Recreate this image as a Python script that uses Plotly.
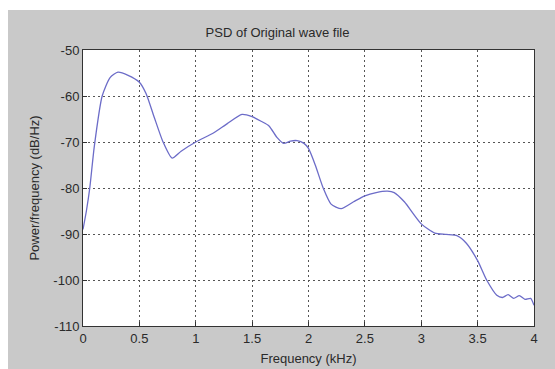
import plotly.graph_objects as go

freq_khz = [0, 0.03, 0.06, 0.1, 0.17, 0.24, 0.31, 0.4, 0.5, 0.56, 0.63, 0.71, 0.79, 0.87,
            1.0, 1.16, 1.28, 1.41, 1.5, 1.58, 1.65, 1.72, 1.78, 1.84, 1.9, 1.96, 2.0,
            2.06, 2.13, 2.2, 2.29, 2.4, 2.5, 2.6, 2.7, 2.76, 2.85, 3.0, 3.12, 3.22,
            3.32, 3.4, 3.5, 3.58, 3.67, 3.72, 3.77, 3.82, 3.87, 3.92, 3.97, 4.0]
psd_db = [-89, -85, -80, -71, -60, -56, -54.8, -55.5, -57, -59.5, -64.5, -70, -73.5, -72,
          -70, -68, -66, -64, -64.5, -65.5, -66.5, -69, -70.3, -69.8, -69.7, -70.3, -71.4,
          -75, -80, -83.5, -84.5, -83, -81.7, -81, -80.7, -81, -83, -87.8, -89.8, -90.1,
          -90.4, -92, -95.8, -100, -103.3, -103.8, -103.2, -104, -103.4, -104.2, -104, -105.5]

x_ticks = [0, 0.5, 1, 1.5, 2, 2.5, 3, 3.5, 4]
x_tick_labels = ["0", "0.5", "1", "1.5", "2", "2.5", "3", "3.5", "4"]
y_ticks = [-110, -100, -90, -80, -70, -60, -50]
y_tick_labels = ["-110", "-100", "-90", "-80", "-70", "-60", "-50"]

W, H = 555, 369
L, R, T, B = 83, 21, 50, 43
pw, ph = W - L - R, H - T - B

fig = go.Figure()
fig.add_trace(go.Scatter(x=freq_khz, y=psd_db, mode="lines",
                         line=dict(color="#6c6cc8", width=1.3, shape="spline", smoothing=0.6),
                         showlegend=False, hoverinfo="skip"))

font = dict(family="Liberation Sans, Arial, sans-serif", size=13, color="#2a2a2a")

axis_common = dict(showline=True, linecolor="#333333", linewidth=1, mirror=True,
                   showgrid=True, gridcolor="#555555", griddash="2px,3px", gridwidth=1,
                   ticks="inside", ticklen=4, tickcolor="#333333", zeroline=False,
                   tickfont=font, automargin=False)

fig.update_xaxes(range=[0, 4], tickvals=x_ticks, ticktext=x_tick_labels,
                 title=dict(text="Frequency (kHz)", font=font, standoff=9), **axis_common)
fig.update_yaxes(range=[-110, -50], tickvals=y_ticks, ticktext=y_tick_labels,
                 title=dict(text="Power/frequency (dB/Hz)", font=font, standoff=10), **axis_common)

def px_x(p):
    return (p - L) / pw

def px_y(p):
    return (H - B - p) / ph

fig.add_shape(type="rect", xref="paper", yref="paper",
              x0=px_x(-5), x1=px_x(8), y0=px_y(375), y1=px_y(-5),
              fillcolor="white", line_width=0, layer="below")
fig.add_shape(type="rect", xref="paper", yref="paper",
              x0=px_x(-5), x1=px_x(560), y0=px_y(10), y1=px_y(-5),
              fillcolor="white", line_width=0, layer="below")

fig.update_layout(
    width=W, height=H,
    margin=dict(l=L, r=R, t=T, b=B, autoexpand=False),
    paper_bgcolor="#c9c9c9", plot_bgcolor="white",
    title=dict(text="PSD of Original wave file", font=font, x=0.5, xanchor="center",
               y=1 - 32 / H, yanchor="middle"),
    font=font,
)

fig.write_html("out.html")
